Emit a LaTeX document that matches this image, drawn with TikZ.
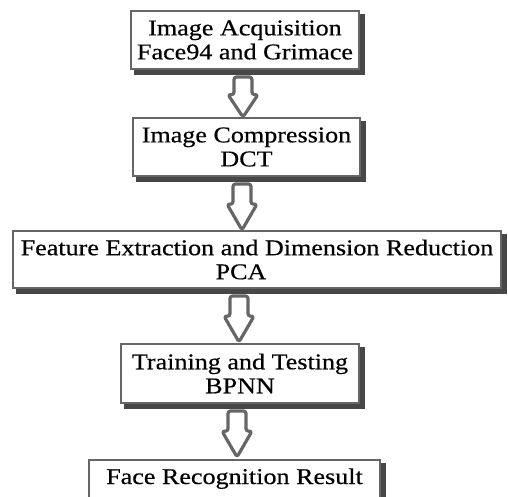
\documentclass[tikz,border=0pt]{standalone}
\usepackage{fontspec}
\setmainfont{Liberation Serif}[FakeStretch=1.16,FakeBold=0.5]
\usetikzlibrary{backgrounds}
\begin{document}
\begin{tikzpicture}[x=1pt,y=-1pt,
  stepbox/.style={draw=black!60, line width=2pt, fill=white, inner sep=0pt,
    align=center, font=\fontsize{22.5}{24}\selectfont},
  boxshadow/.style={fill=black!72},
  blockarr/.style={draw=black!60, line width=3.2pt, fill=white, line join=round, rounded corners=2.5pt}]
\useasboundingbox (0,0) rectangle (508,497);
\clip (0,0) rectangle (508,497);

\node[stepbox, minimum width=228pt, minimum height=58pt] (b1) at (245,40)
  {Image Acquisition\\Face94 and Grimace};
\node[stepbox, minimum width=227pt, minimum height=58pt] (b2) at (246.5,147)
  {Image Compression\\DCT};
\node[stepbox, minimum width=488pt, minimum height=57pt] (b3) at (257,259.5)
  {Feature Extraction and Dimension Reduction\\PCA\hspace*{32pt}};
\node[stepbox, minimum width=238pt, minimum height=59pt] (b4) at (240,373.5)
  {Training and Testing\\BPNN};
\node[stepbox, minimum width=291pt, text height=24pt, text depth=36pt, anchor=north] (b5) at (234.5,459)
  {Face Recognition Result};

\begin{scope}[on background layer]
  \fill[white] (0,0) rectangle (508,497);
  \foreach \b in {b1,b2,b3,b4,b5}{
    \fill[boxshadow] ([shift={(4,4)}]\b.north west) rectangle ([shift={(5,5)}]\b.south east);
  }
\end{scope}

\coordinate (a1) at (b1.south -| 243,0);
\coordinate (a2) at (b2.south -| 242,0);
\coordinate (a3) at (b3.south -| 239,0);
\coordinate (a4) at (b4.south -| 237,0);
\foreach \a/\len in {a1/42,a2/48,a3/48,a4/48}{
  \draw[blockarr] (\a) ++(0,7) +(-9,0) -- +(-9,0.42*\len) -- +(-15,0.42*\len)
     -- +(0,\len-2) -- +(15,0.42*\len) -- +(9,0.42*\len) -- +(9,0) -- cycle;
}
\end{tikzpicture}
\end{document}
